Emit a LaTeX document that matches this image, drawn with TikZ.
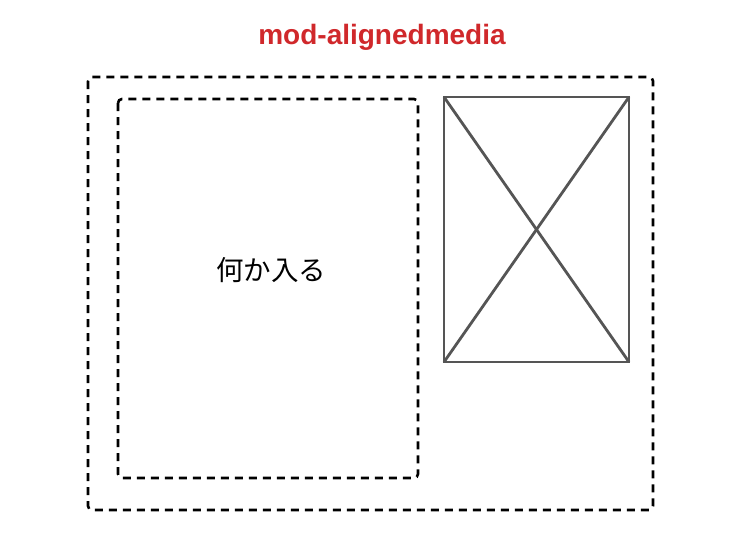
\documentclass[tikz,border=0pt]{standalone}
\usepackage{fontspec}
\setmainfont{Liberation Sans}
\newfontfamily\jpfont{Noto Sans CJK JP}
\usepackage{xcolor}
\usetikzlibrary{positioning}
\definecolor{titlered}{HTML}{D0282B}
\definecolor{imggray}{HTML}{555555}

\tikzset{
  dashbox/.style={draw=black, line width=2.6pt, dash pattern=on 8pt off 6pt, rounded corners=4pt},
  imgbox/.style={draw=imggray, line width=2.8pt, inner sep=0pt}
}

\begin{document}
\begin{tikzpicture}[x=1pt,y=-1pt]
        \useasboundingbox (0,0) rectangle (751,539);
        % title
        \node[text=titlered, font=\bfseries\fontsize{28}{32}\selectfont] (title) at (382,37) {mod-alignedmedia};
        % boxes
        \draw[dashbox] (88,77) rectangle (653,510);
        \draw[dashbox] (118,99) rectangle (418,478);
        \node[font=\jpfont\fontsize{27.5}{32}\selectfont] (content) at (271,270) {何か入る};
        % image placeholder
        \coordinate (imgtl) at (444,97);
        \coordinate (imgtr) at (629,97);
        \coordinate (imgbl) at (444,362);
        \coordinate (imgbr) at (629,362);
        \draw[imgbox] (imgtl) -- (imgtr) -- (imgbr) -- (imgbl) -- cycle;
        \draw[imgbox] (imgtl) -- (imgbr);
        \draw[imgbox] (imgtr) -- (imgbl);
    \end{tikzpicture}
\end{document}
